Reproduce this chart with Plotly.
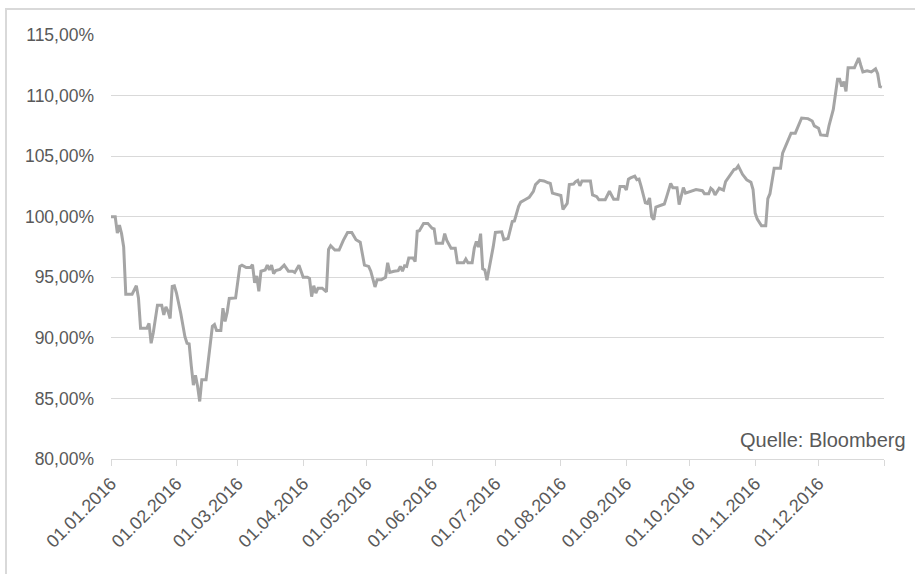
import pandas as pd
import plotly.graph_objects as go

# Day offsets from 01.01.2016 and index level in percent
day_offsets = [0, 2, 3, 4, 5, 6, 7, 10, 12, 13, 14, 17, 18, 19, 20, 22, 24, 25, 26, 27, 28, 29, 30, 31,
               33, 34, 35, 36, 37, 38, 39, 40, 41, 42, 43, 45, 46, 47, 48, 49, 50, 52, 53, 54, 55, 56,
               59, 61, 62, 64, 66, 67, 68, 69, 70, 71, 73, 74, 75, 76, 77, 78, 80, 82, 84, 86, 87, 89,
               91, 93, 94, 95, 96, 97, 98, 100, 102, 103, 104, 106, 108, 110, 112, 114, 116, 118, 120,
               122, 123, 125, 126, 128, 130, 131, 132, 134, 136, 137, 138, 139, 140, 141, 143, 144, 145,
               146, 148, 150, 152, 153, 154, 157, 158, 159, 161, 163, 164, 167, 168, 169, 171, 172, 173,
               174, 175, 176, 177, 178, 179, 181, 182, 185, 186, 188, 190, 191, 193, 194, 196, 198, 200,
               201, 203, 205, 207, 208, 209, 212, 213, 214, 216, 217, 219, 220, 221, 222, 223, 227, 228,
               230, 231, 234, 236, 238, 240, 241, 243, 244, 245, 246, 248, 249, 250, 251, 253, 254, 255,
               256, 257, 258, 260, 262, 263, 265, 266, 268, 269, 270, 271, 272, 275, 277, 280, 281, 283,
               284, 285, 286, 288, 290, 291, 293, 295, 296, 297, 299, 301, 303, 304, 305, 306, 308, 310,
               311, 312, 314, 317, 318, 321, 322, 324, 325, 327, 330, 332, 333, 335, 336, 339, 340, 342,
               344, 345, 346, 347, 348, 349, 352, 354, 355, 356, 358, 360, 362, 363, 364, 365]
levels = [100.0, 100.0, 98.65, 99.3, 98.6, 97.5, 93.6, 93.6, 94.3, 93.3, 90.8, 90.8, 91.2, 89.55, 90.4,
          92.7, 92.7, 91.9, 92.55, 92.2, 91.6, 94.25, 94.3, 93.7,
          92.05, 90.95, 90.1, 89.55, 89.5, 87.7, 86.1, 86.9, 86.0, 84.75, 86.55, 86.55, 88.2, 89.3,
          90.95, 91.1, 90.6, 90.6, 92.45, 91.35, 92.1, 93.25,
          93.3, 95.9, 96.0, 95.8, 95.8, 96.05, 94.55, 95.1, 93.85, 95.5, 95.6, 96.0, 95.6, 96.0, 95.3,
          95.55, 95.65, 96.0, 95.5, 95.5, 95.4, 96.0,
          95.0, 95.0, 94.9, 93.4, 94.3, 93.7, 94.1, 94.1, 93.8, 97.3, 97.6, 97.25, 97.25, 98.05, 98.7,
          98.7, 98.1, 97.9, 96.0,
          95.9, 95.5, 94.2, 94.8, 94.8, 95.0, 96.2, 95.4, 95.5, 95.55, 95.9, 95.5, 95.95, 95.9, 96.6,
          96.6, 96.3, 98.8,
          98.85, 99.45, 99.45, 99.05, 99.0, 97.8, 97.8, 98.6, 98.05, 97.4, 97.4, 96.2, 96.2, 96.5, 96.2,
          96.2, 97.4, 97.95,
          97.5, 98.6, 95.7, 95.6, 94.75, 95.6, 97.55, 98.7, 98.75, 98.1, 98.2, 99.6, 99.65, 100.85,
          101.2, 101.4, 101.6, 102.1,
          102.65, 103.0, 102.95, 102.8, 102.75, 101.95, 101.8, 101.75, 100.6, 101.1, 102.65, 102.7,
          102.9, 103.0, 102.55, 102.95, 102.95, 101.8,
          101.65, 101.4, 101.4, 102.1, 101.45, 101.45, 102.5, 102.5, 102.2, 103.1, 103.2, 103.35,
          103.05, 103.1, 102.5, 101.15, 101.1, 101.55,
          100.0, 99.75, 100.8, 100.9, 101.05, 101.6, 102.75, 102.4, 102.4, 101.0, 101.8, 102.4, 101.95,
          102.1, 102.25, 102.15, 101.9, 101.9,
          102.35, 102.2, 101.8, 102.35, 102.2, 102.9, 103.45, 103.9, 103.95, 104.2, 103.5, 103.05,
          102.85, 102.25, 100.3, 99.8, 99.25, 99.25,
          101.5, 101.9, 104.0, 104.0, 105.25, 106.6, 106.9, 106.9, 107.3, 108.15, 108.1, 107.9, 107.5,
          107.3, 106.75, 106.7, 107.55, 108.85,
          111.35, 111.35, 110.75, 111.15, 110.35, 112.3, 112.3, 113.1, 112.5, 111.95, 112.05, 111.95,
          112.2, 111.8, 110.75, 110.7]

tick_dates = ["2016-01-01", "2016-02-01", "2016-03-01", "2016-04-01", "2016-05-01", "2016-06-01",
              "2016-07-01", "2016-08-01", "2016-09-01", "2016-10-01", "2016-11-01", "2016-12-01",
              "2017-01-01"]
tick_labels = ["01.01.2016", "01.02.2016", "01.03.2016", "01.04.2016", "01.05.2016", "01.06.2016",
               "01.07.2016", "01.08.2016", "01.09.2016", "01.10.2016", "01.11.2016", "01.12.2016", ""]
y_ticks = [80, 85, 90, 95, 100, 105, 110, 115]
source_text = "Quelle: Bloomberg"

dates = pd.Timestamp("2016-01-01") + pd.to_timedelta(day_offsets, unit="D")
y_vals = [v / 100 for v in levels]

fig = go.Figure()
fig.add_trace(go.Scatter(x=dates, y=y_vals, mode="lines",
                         line=dict(color="#a5a5a5", width=3), hoverinfo="x+y"))

W, H = 915, 574
L, R, T, B = 111, 31, 35, 115
pw, ph = W - L - R, H - T - B

def px(x):
    return (x - L) / pw

def py(y):
    return (H - B - y) / ph

fig.update_layout(
    width=W, height=H,
    margin=dict(l=L, r=R, t=T, b=B),
    paper_bgcolor="white", plot_bgcolor="white",
    showlegend=False,
    separators=",.",
    font=dict(family="Liberation Sans", color="#595959", size=18),
    xaxis=dict(
        type="date",
        range=["2016-01-01", "2017-01-01"],
        tickmode="array", tickvals=tick_dates, ticktext=tick_labels,
        tickangle=-45,
        tickfont=dict(size=18, color="#595959"),
        showgrid=False, zeroline=False,
        showline=True, linecolor="#d9d9d9", linewidth=1,
        ticks="outside", ticklen=6, tickcolor="#d9d9d9", tickwidth=1,
    ),
    yaxis=dict(
        range=[0.80, 1.15],
        tickmode="array", tickvals=[v / 100 for v in y_ticks],
        tickformat=".2%",
        tickfont=dict(size=17.5, color="#595959"),
        showgrid=True, gridcolor="#d9d9d9", gridwidth=1,
        zeroline=False, showline=False, ticks="", ticklabelstandoff=16,
    ),
    shapes=[dict(type="rect", xref="paper", yref="paper",
                 x0=px(6), x1=px(930), y0=py(590), y1=py(9),
                 line=dict(color="#d9d9d9", width=2), fillcolor="rgba(0,0,0,0)", layer="below")],
    annotations=[dict(text=source_text, xref="paper", yref="paper",
                      x=px(908), y=py(440), xanchor="right", yanchor="middle",
                      showarrow=False, font=dict(size=20, color="#595959"))],
)

fig.write_html("out.html", config={"displayModeBar": False},
               post_script="document.body.style.margin='0px';")
